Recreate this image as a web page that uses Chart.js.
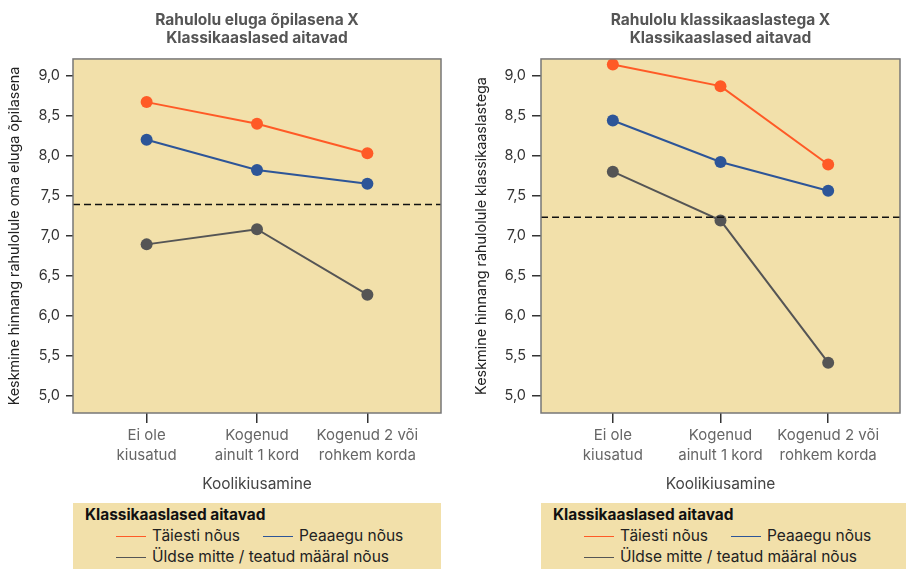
<!DOCTYPE html>
<html>
<head>
<meta charset="utf-8">
<script src="https://cdn.jsdelivr.net/npm/chart.js@4"></script>
<style>
  body { margin: 0; width: 906px; height: 569px; overflow: hidden; background: #fff; font-family: Inter, "Noto Sans", sans-serif; position: relative; }
  .chartbox { position: absolute; top: 0; height: 500px; }
  .legend { position: absolute; top: 503px; height: 70px; background: #F2E0AA; color: #222; font-size: 15.5px; }
  .legend .ttl { position: absolute; left: 12px; top: 2px; font-weight: 700; color: #111; font-size: 15.4px; }
  .legend .txt { position: absolute; white-space: nowrap; line-height: 20px; }
  .legend .sw { position: absolute; width: 30px; height: 1px; }
</style>
</head>
<body>
<div class="chartbox" style="left:0;width:453px"><canvas id="chart1"></canvas></div>
<div class="chartbox" style="left:453px;width:453px"><canvas id="chart2"></canvas></div>
<div class="legend" id="legend1" style="left:73px;width:368px"></div>
<div class="legend" id="legend2" style="left:541px;width:370px"></div>

<script>
// categories on the x axis (multi-line labels)
var categories = [["Ei ole", "kiusatud"], ["Kogenud", "ainult 1 kord"], ["Kogenud 2 või", "rohkem korda"]];
var yTicks = [5.0, 5.5, 6.0, 6.5, 7.0, 7.5, 8.0, 8.5, 9.0];
var seriesNames = ["Täiesti nõus", "Peaaegu nõus", "Üldse mitte / teatud määral nõus"];
var seriesColors = ["#FF5A26", "#2D5598", "#555555"];

// chart 1 - Rahulolu eluga õpilasena
var life_taiesti = [8.67, 8.40, 8.03];
var life_peaaegu = [8.20, 7.82, 7.65];
var life_yldse = [6.89, 7.08, 6.26];
var life_reference = 7.39;

// chart 2 - Rahulolu klassikaaslastega
var class_taiesti = [9.14, 8.87, 7.89];
var class_peaaegu = [8.44, 7.92, 7.56];
var class_yldse = [7.80, 7.19, 5.41];
var class_reference = 7.23;

var xMin = -0.667, xMax = 2.667;
var yMin = 4.78, yMax = 9.21;

function toPoints(values) {
    var pts = [];
    for (var i = 0; i < values.length; i++) {
        pts.push({ x: i, y: values[i] });
    }
    return pts;
}

function makeChart(canvasId, title, yTitle, series, refValue, yAxisWidth, tickLen, yTitlePad, rightPad) {
    var datasets = [];
    // dashed reference line across the whole plot
    datasets.push({
        data: [{ x: xMin, y: refValue }, { x: xMax, y: refValue }],
        borderColor: "#111",
        borderWidth: 1.5,
        borderDash: [7, 4],
        pointRadius: 0,
        fill: false
    });
    for (var s = 0; s < series.length; s++) {
        datasets.push({
            label: seriesNames[s],
            data: toPoints(series[s]),
            borderColor: seriesColors[s],
            backgroundColor: seriesColors[s],
            borderWidth: 2,
            pointRadius: 6,
            pointHoverRadius: 6,
            pointBorderWidth: 0,
            fill: false
        });
    }

    // plot background + border
    var bgPlugin = {
        id: "plotBg",
        beforeDatasetsDraw: function (chart) {
            var a = chart.chartArea, c = chart.ctx;
            c.save();
            c.fillStyle = "#F2E0AA";
            c.fillRect(a.left, a.top, a.right - a.left, a.bottom - a.top);
            c.restore();
        },
        afterDraw: function (chart) {
            var a = chart.chartArea, c = chart.ctx;
            c.save();
            c.strokeStyle = "#777";
            c.lineWidth = 1.5;
            c.strokeRect(a.left, a.top, a.right - a.left, a.bottom - a.top);
            c.restore();
        }
    };

    return new Chart(document.getElementById(canvasId), {
        type: "line",
        data: { datasets: datasets },
        plugins: [bgPlugin],
        options: {
            responsive: true,
            maintainAspectRatio: false,
            animation: false,
            layout: { padding: { left: 0, right: rightPad, top: 0, bottom: 0 } },
            plugins: {
                legend: { display: false },
                tooltip: { enabled: false },
                title: {
                    display: true,
                    text: title,
                    fullSize: false,
                    color: "#555",
                    font: { family: "Inter", size: 15.5, weight: "bold", lineHeight: 1.16 },
                    padding: { top: 11, bottom: 12 }
                }
            },
            scales: {
                x: {
                    type: "linear",
                    min: xMin,
                    max: xMax,
                    afterBuildTicks: function (scale) {
                        scale.ticks = categories.map(function (c, i) { return { value: i }; });
                    },
                    afterFit: function (scale) { scale.height = 87; },
                    border: { display: false },
                    grid: { drawOnChartArea: false, tickLength: 10, color: "#333", lineWidth: 1.5 },
                    ticks: {
                        color: "#666",
                        padding: 3,
                        font: { family: "Inter", size: 15, lineHeight: 1.33 },
                        callback: function (v) { return categories[v]; }
                    },
                    title: {
                        display: true,
                        text: "Koolikiusamine",
                        color: "#444",
                        font: { family: "Inter", size: 15.5 },
                        padding: { top: 0, bottom: 6.7 }
                    }
                },
                y: {
                    min: yMin,
                    max: yMax,
                    afterBuildTicks: function (scale) {
                        scale.ticks = yTicks.map(function (v) { return { value: v }; });
                    },
                    afterFit: function (scale) { scale.width = yAxisWidth; },
                    border: { display: false },
                    grid: { drawOnChartArea: false, tickLength: tickLen, color: "#333", lineWidth: 1.5 },
                    ticks: {
                        color: "#333",
                        padding: 6,
                        font: { family: "Inter", size: 14.5 },
                        callback: function (v) { return v.toFixed(1).replace(".", ","); }
                    },
                    title: {
                        display: true,
                        text: yTitle,
                        color: "#222",
                        font: { family: "Inter", size: 14.4 },
                        padding: { top: yTitlePad, bottom: 0 }
                    }
                }
            }
        }
    });
}

// legend drawn as plain html, from the same names and colours
function buildLegend(id) {
    var box = document.getElementById(id);
    var html = '<div class="ttl">Klassikaaslased aitavad</div>';
    var pos = [[43, 33], [190, 33], [43, 54]];
    for (var i = 0; i < seriesNames.length; i++) {
        html += '<div class="sw" style="left:' + pos[i][0] + 'px;top:' + pos[i][1] + 'px;background:' + seriesColors[i] + '"></div>';
        html += '<div class="txt" style="left:' + (pos[i][0] + 36) + 'px;top:' + (pos[i][1] - 10) + 'px">' + seriesNames[i] + '</div>';
    }
    box.innerHTML = html;
}

makeChart("chart1", ["Rahulolu eluga õpilasena X", "Klassikaaslased aitavad"],
    "Keskmine hinnang rahulolule oma eluga õpilasena",
    [life_taiesti, life_peaaegu, life_yldse], life_reference, 73, 7, 6.4, 12);
makeChart("chart2", ["Rahulolu klassikaaslastega X", "Klassikaaslased aitavad"],
    "Keskmine hinnang rahulolule klassikaaslastega",
    [class_taiesti, class_peaaegu, class_yldse], class_reference, 88, 9, 20.4, 0);
buildLegend("legend1");
buildLegend("legend2");
</script>
</body>
</html>
